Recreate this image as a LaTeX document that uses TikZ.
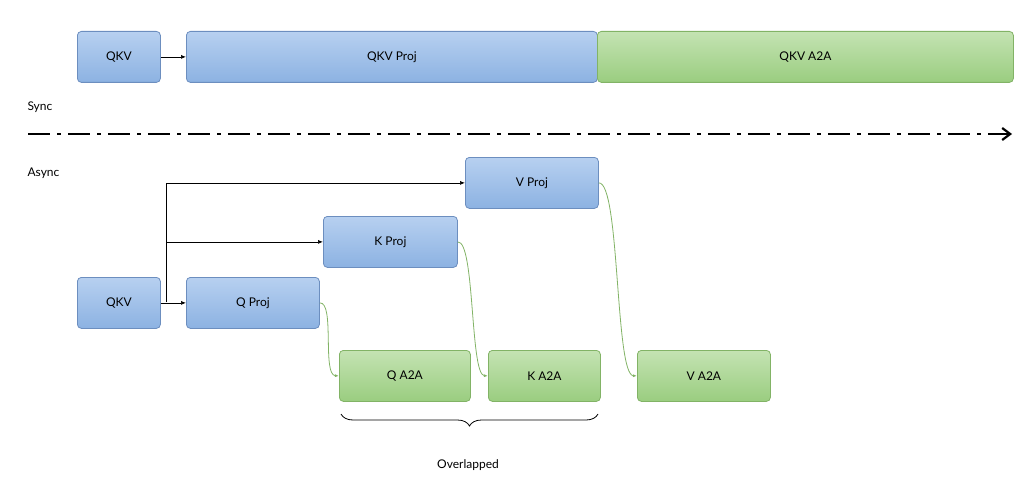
\documentclass[tikz,border=0pt]{standalone}
\usepackage{fontspec}
\setmainfont{Lato}
\usetikzlibrary{arrows.meta,decorations.pathreplacing}
\definecolor{bl1}{HTML}{B7D0F0}\definecolor{bl2}{HTML}{8CB2E2}\definecolor{blb}{HTML}{6C8EBF}
\definecolor{gr1}{HTML}{C4E3B3}\definecolor{gr2}{HTML}{9ACD80}\definecolor{grb}{HTML}{82B366}
\begin{document}
\begin{tikzpicture}[x=1pt,y=-1pt,
 box/.style={draw,rounded corners=4pt,line width=0.8pt,anchor=north west,inner sep=0pt,font=\large},
 blue/.style={box,draw=blb,top color=bl1,bottom color=bl2},
 green/.style={box,draw=grb,top color=gr1,bottom color=gr2},
 arr/.style={-{Latex[length=5pt,width=4pt]},line width=0.7pt},
 garr/.style={-{Latex[length=4pt,width=3pt]},draw=grb,line width=0.8pt}]
\useasboundingbox (0,0) rectangle (1024,492);
\node[blue,minimum width=83,minimum height=51] (qkv1) at (77,31) {QKV};
\node[blue,minimum width=411,minimum height=51] (proj) at (186,31) {QKV Proj};
\node[green,minimum width=416,minimum height=51] (a2a) at (597,31) {QKV A2A};
\draw[arr] (qkv1.east) -- (proj.west);
\node[anchor=west,font=\large] (sync) at (24,107) {Sync};
\node[anchor=west,font=\large] (async) at (24,173) {Async};
\coordinate (l0) at (28,134); \coordinate (l1) at (1012,134);
\draw[line width=2.2pt,dash pattern=on 22pt off 7pt on 4pt off 7pt,-{Straight Barb[length=8pt,width=12pt]}] (l0) -- (l1);
\node[blue,minimum width=133,minimum height=51] (vp) at (465,157) {V Proj};
\node[blue,minimum width=134,minimum height=51] (kp) at (323,216) {K Proj};
\node[blue,minimum width=83,minimum height=51] (qkv2) at (77,277) {QKV};
\node[blue,minimum width=133,minimum height=51] (qp) at (186,277) {Q Proj};
\node[green,minimum width=131,minimum height=51] (qa) at (339,350) {Q A2A};
\node[green,minimum width=112,minimum height=51] (ka) at (488,350) {K A2A};
\node[green,minimum width=133,minimum height=51] (va) at (637,350) {V A2A};
\draw[arr] (qkv2.east) -- (qp.west);
\coordinate (br) at (166,302);
\draw[arr] (br) |- (kp.west);
\draw[arr] (br) |- (vp.west);
\draw[garr] (qp.east) .. controls (335,302) and (322,375) .. (qa.west);
\draw[garr] (kp.east) .. controls (475,241) and (470,375) .. (ka.west);
\draw[garr] (vp.east) .. controls (620,182) and (615,375) .. (va.west);
\draw[decorate,decoration={brace,mirror,amplitude=12pt},line width=0.8pt] (341,414) -- (598,414) coordinate[midway] (bm);
\node[font=\large] (ov) at (468,465) {Overlapped};
\end{tikzpicture}
\end{document}
